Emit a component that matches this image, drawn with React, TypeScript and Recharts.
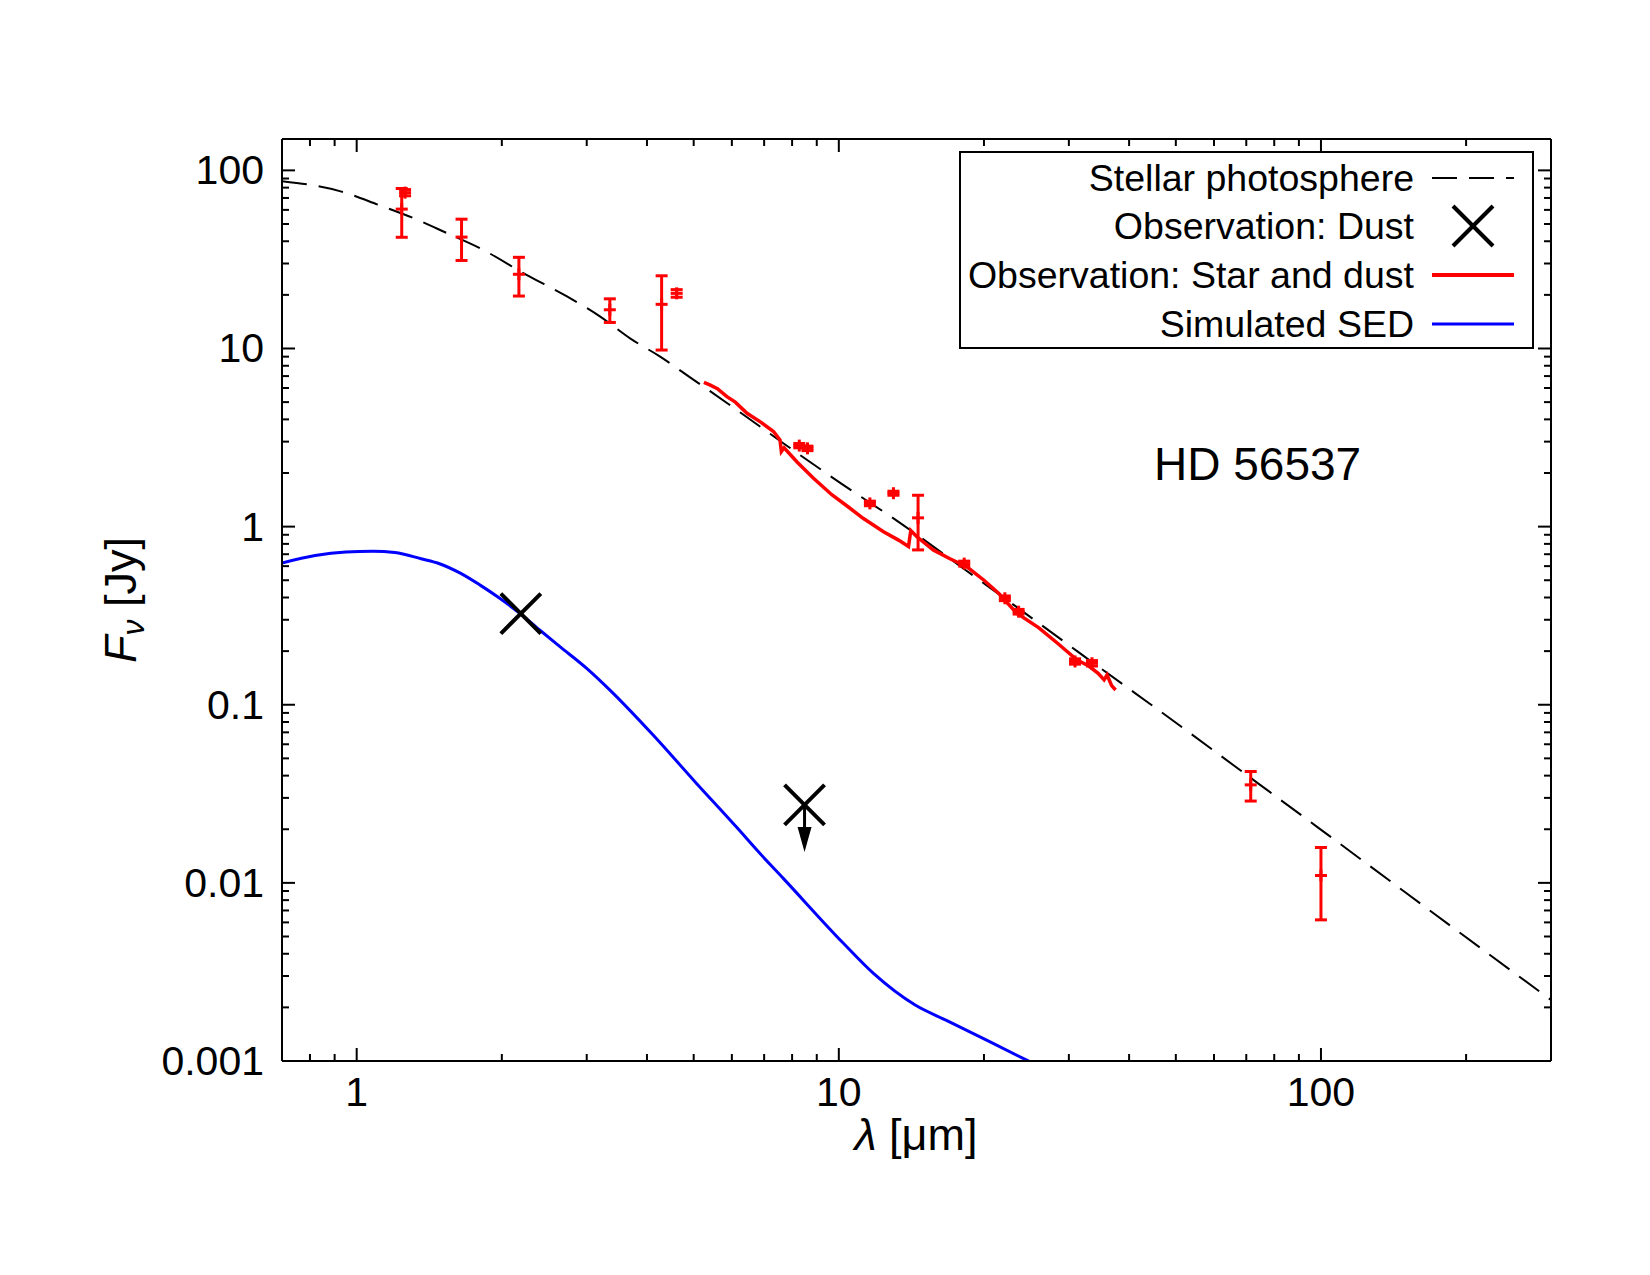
import React from 'react';
import { ComposedChart, Line, Scatter, XAxis, YAxis, ErrorBar, Legend } from 'recharts';

// stellar photosphere model, wavelength in micron, flux in Jy
const photoWave = [0.7, 0.93, 1.11, 1.31, 1.54, 1.8, 2.25, 2.73, 3.2, 3.69, 4.26, 5.0, 5.29, 6.45, 7.67, 10.1, 13.6, 18.4, 23.4, 31.2, 39, 44, 70, 98, 150, 300];
const photoFlux = [87, 76, 64, 54, 44.4, 36.6, 25.9, 19.6, 15.1, 11.4, 9.0, 6.66, 6.0, 4.11, 2.94, 1.75, 1.02, 0.565, 0.353, 0.2, 0.129, 0.102, 0.0405, 0.0207, 0.0088, 0.0022];

// observed spectrum (star + dust)
const specWave = [5.25, 5.4, 5.6, 5.86, 6.1, 6.45, 6.9, 7.32, 7.55, 7.6, 7.7, 8.2, 8.86, 9.67, 10.5, 11.25, 12.38, 13.3, 13.95, 14.1, 14.5, 15.7, 17, 18.4, 20, 21.5, 23.4, 26, 28.5, 31.2, 33, 34.5, 35.5, 36, 36.8, 37.5];
const specFlux = [6.45, 6.25, 5.95, 5.37, 5.0, 4.33, 3.85, 3.42, 3.07, 2.64, 2.77, 2.3, 1.87, 1.51, 1.28, 1.11, 0.937, 0.84, 0.773, 0.95, 0.88, 0.74, 0.66, 0.597, 0.5, 0.42, 0.326, 0.27, 0.22, 0.178, 0.165, 0.15, 0.138, 0.147, 0.128, 0.121];

// photometry with errors
const photWave = [1.24, 1.26, 1.65, 2.17, 3.35, 4.29, 4.61, 8.28, 8.61, 11.6, 12.98, 14.6, 18.2, 22.1, 23.6, 30.9, 33.5, 71.5, 100];
const photFlux = [60.6, 75, 42.2, 26.1, 16.5, 17.7, 20.4, 2.85, 2.75, 1.35, 1.54, 1.12, 0.62, 0.396, 0.333, 0.175, 0.171, 0.0355, 0.011];
const photErr = [18.5, 3, 11, 6.4, 2.5, 7.9, 1.0, 0.08, 0.08, 0.04, 0.04, 0.38, 0.02, 0.012, 0.01, 0.006, 0.006, 0.0067, 0.0048];

// simulated SED
const sedWave = [0.7, 0.82, 0.95, 1.08, 1.2, 1.36, 1.49, 1.64, 1.8, 1.98, 2.18, 2.4, 2.64, 3.0, 3.36, 4.11, 5.03, 6.14, 6.85, 7.67, 10.15, 11.8, 14.4, 16.8, 20.6, 25.1];
const sedFlux = [0.625, 0.688, 0.72, 0.727, 0.715, 0.66, 0.617, 0.548, 0.471, 0.396, 0.326, 0.262, 0.212, 0.16, 0.12, 0.068, 0.037, 0.0205, 0.0147, 0.0106, 0.00467, 0.0031, 0.00206, 0.00168, 0.00128, 0.00098];

// dust observations
const dustWave = [2.19];
const dustFlux = [0.325];
const dustLimitWave = [8.49];
const dustLimitFlux = [0.0274];

const xTicks = [0.8, 0.9, 1, 2, 3, 4, 5, 6, 7, 8, 9, 10, 20, 30, 40, 50, 60, 70, 80, 90, 100, 200];
const xMajor = [1, 10, 100];
const yTicks = [
  0.001, 0.002, 0.003, 0.004, 0.005, 0.006, 0.007, 0.008, 0.009,
  0.01, 0.02, 0.03, 0.04, 0.05, 0.06, 0.07, 0.08, 0.09,
  0.1, 0.2, 0.3, 0.4, 0.5, 0.6, 0.7, 0.8, 0.9,
  1, 2, 3, 4, 5, 6, 7, 8, 9,
  10, 20, 30, 40, 50, 60, 70, 80, 90, 100,
];
const yMajor = [0.001, 0.01, 0.1, 1, 10, 100];

const legendLabels = ['Stellar photosphere', 'Observation: Dust', 'Observation: Star and dust', 'Simulated SED'];

const zip = (xs: number[], ys: number[]) => xs.map((x, i) => ({ x, y: ys[i] }));
const photoData = zip(photoWave, photoFlux);
const specData = zip(specWave, specFlux);
const sedData = zip(sedWave, sedFlux);
const dustData = zip(dustWave, dustFlux);
const dustLimitData = zip(dustLimitWave, dustLimitFlux);
const photData = photWave.map((x, i) => ({ x, y: photFlux[i], err: photErr[i] }));

const FONT = '"Liberation Sans", Arial, Helvetica, sans-serif';
const RED = '#ff0000';
const BLUE = '#0000ff';
const DASH = '25 12';

const XTick = (props: any) => {
  const { x, y, payload, side } = props;
  const major = xMajor.includes(payload.value);
  const len = major ? 13 : 7;
  const dir = side === 'bottom' ? -1 : 1;
  return (
    <g>
      <line x1={x} y1={y} x2={x} y2={y + dir * len} stroke="#000" strokeWidth={2} />
      {major && side === 'bottom' && (
        <text x={x} y={y + 45} textAnchor="middle" fontSize={41} fontFamily={FONT} fill="#000">
          {payload.value}
        </text>
      )}
    </g>
  );
};

const YTick = (props: any) => {
  const { x, y, payload, side } = props;
  const major = yMajor.includes(payload.value);
  const len = major ? 13 : 7;
  const dir = side === 'left' ? 1 : -1;
  return (
    <g>
      <line x1={x} y1={y} x2={x + dir * len} y2={y} stroke="#000" strokeWidth={2} />
      {major && side === 'left' && (
        <text x={x - 18} y={y + 14} textAnchor="end" fontSize={41} fontFamily={FONT} fill="#000">
          {payload.value}
        </text>
      )}
    </g>
  );
};

const PlusShape = (props: any) => {
  const { cx, cy } = props;
  return (
    <g stroke={RED} strokeWidth={3}>
      <line x1={cx - 6} y1={cy} x2={cx + 6} y2={cy} />
      <line x1={cx} y1={cy - 6} x2={cx} y2={cy + 6} />
    </g>
  );
};

const CrossShape = (props: any) => {
  const { cx, cy } = props;
  return (
    <g stroke="#000" strokeWidth={4}>
      <line x1={cx - 20} y1={cy - 20} x2={cx + 20} y2={cy + 20} />
      <line x1={cx - 20} y1={cy + 20} x2={cx + 20} y2={cy - 20} />
    </g>
  );
};

const LimitShape = (props: any) => {
  const { cx, cy } = props;
  return (
    <g>
      <CrossShape cx={cx} cy={cy} />
      <line x1={cx} y1={cy} x2={cx} y2={cy + 24} stroke="#000" strokeWidth={3} />
      <polygon points={`${cx - 7},${cy + 22} ${cx + 7},${cy + 22} ${cx},${cy + 47}`} fill="#000" />
    </g>
  );
};

const LegendBox = () => {
  const rowY = [27, 75, 124, 173];
  return (
    <svg width={575} height={198} style={{ display: 'block' }}>
      <rect x={1} y={1} width={573} height={196} fill="#fff" stroke="#000" strokeWidth={2} />
      {legendLabels.map((label, i) => (
        <text key={label} x={455} y={rowY[i] + 13} textAnchor="end" fontSize={37.5} fontFamily={FONT} fill="#000">
          {label}
        </text>
      ))}
      <line x1={473} y1={rowY[0]} x2={555} y2={rowY[0]} stroke="#000" strokeWidth={2} strokeDasharray={DASH} />
      <CrossShape cx={514} cy={rowY[1]} />
      <line x1={473} y1={rowY[2]} x2={555} y2={rowY[2]} stroke={RED} strokeWidth={4} />
      <line x1={473} y1={rowY[3]} x2={555} y2={rowY[3]} stroke={BLUE} strokeWidth={3} />
    </svg>
  );
};

export default function App() {
  const axisLine = { stroke: '#000', strokeWidth: 2 };
  return (
    <div style={{ position: 'absolute', left: 0, top: 0, width: 1650, height: 1275, background: '#fff' }}>
      <ComposedChart width={1650} height={1275} margin={{ top: 109, right: 39, bottom: 184, left: 222 }}>
        <XAxis xAxisId="b" dataKey="x" type="number" scale="log" domain={[0.7, 300]} allowDataOverflow
          ticks={xTicks} interval={0} tickSize={0} tickMargin={0} tickLine={false} axisLine={axisLine}
          height={30} tick={(p: any) => <XTick {...p} side="bottom" />} />
        <XAxis xAxisId="t" orientation="top" dataKey="x" type="number" scale="log" domain={[0.7, 300]} allowDataOverflow
          ticks={xTicks} interval={0} tickSize={0} tickMargin={0} tickLine={false} axisLine={axisLine}
          height={30} tick={(p: any) => <XTick {...p} side="top" />} />
        <YAxis yAxisId="l" dataKey="y" type="number" scale="log" domain={[0.001, 150]} allowDataOverflow
          ticks={yTicks} interval={0} tickSize={0} tickMargin={0} tickLine={false} axisLine={axisLine}
          width={60} tick={(p: any) => <YTick {...p} side="left" />} />
        <YAxis yAxisId="r" orientation="right" dataKey="y" type="number" scale="log" domain={[0.001, 150]} allowDataOverflow
          ticks={yTicks} interval={0} tickSize={0} tickMargin={0} tickLine={false} axisLine={axisLine}
          width={60} tick={(p: any) => <YTick {...p} side="right" />} />

        <Line xAxisId="b" yAxisId="l" data={photoData} dataKey="y" type="monotone" stroke="#000" strokeWidth={2}
          strokeDasharray={DASH} dot={false} isAnimationActive={false} />
        <Line xAxisId="b" yAxisId="l" data={specData} dataKey="y" type="linear" stroke={RED} strokeWidth={3.5}
          dot={false} isAnimationActive={false} />
        <Scatter xAxisId="b" yAxisId="l" data={photData} dataKey="y" shape={PlusShape} isAnimationActive={false}>
          <ErrorBar dataKey="err" direction="y" width={6} stroke={RED} strokeWidth={3} />
        </Scatter>
        <Line xAxisId="b" yAxisId="l" data={sedData} dataKey="y" type="monotone" stroke={BLUE} strokeWidth={3}
          dot={false} isAnimationActive={false} />
        <Scatter xAxisId="b" yAxisId="l" data={dustData} dataKey="y" shape={CrossShape} isAnimationActive={false} />
        <Scatter xAxisId="b" yAxisId="l" data={dustLimitData} dataKey="y" shape={LimitShape} isAnimationActive={false} />

        <Legend content={() => <LegendBox />} layout="horizontal" verticalAlign="middle" align="center"
          wrapperStyle={{ left: 959, top: 151, width: 575, height: 198 }} />
      </ComposedChart>
      <svg width={1650} height={1275} style={{ position: 'absolute', left: 0, top: 0, pointerEvents: 'none' }}>
        <text x={916} y={1150} textAnchor="middle" fontSize={45} fontFamily={FONT} fill="#000">
          <tspan fontStyle="italic">λ</tspan> [μm]
        </text>
        <text transform="translate(136,600) rotate(-90)" textAnchor="middle" fontSize={45} fontFamily={FONT} fill="#000">
          <tspan fontStyle="italic">F</tspan>
          <tspan fontStyle="italic" fontSize={32} dy={8}>ν</tspan>
          <tspan dy={-8}> [Jy]</tspan>
        </text>
        <text x={1154} y={480} fontSize={46} fontFamily={FONT} fill="#000">HD 56537</text>
      </svg>
    </div>
  );
}
